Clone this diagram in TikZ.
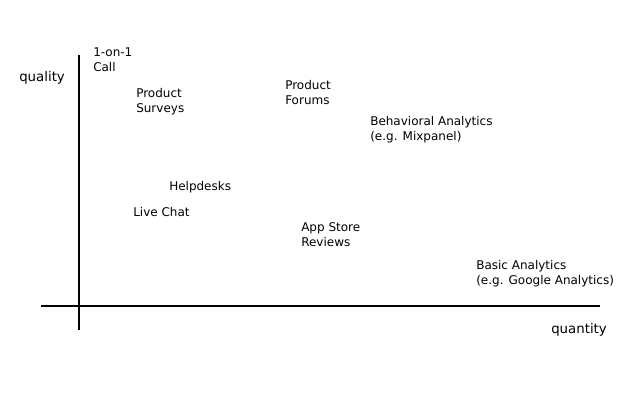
\documentclass[tikz,border=0pt]{standalone}
\usepackage{fontspec}
\setmainfont{DejaVu Sans}
\begin{document}
\begin{tikzpicture}[x=0.75pt,y=-0.75pt,
  lbl/.style={anchor=base west,inner sep=0pt,align=left,font=\fontsize{9}{11.25}\selectfont},
  axlbl/.style={anchor=base west,inner sep=0pt,font=\fontsize{10}{12}\selectfont},
  axis/.style={line width=0.8pt,black}]
\useasboundingbox (0,0) rectangle (640,400);
\coordinate (ytop) at (79,55);
\coordinate (ybot) at (79,330);
\coordinate (xl) at (41,306);
\coordinate (xr) at (600,306);
\draw[axis] (ytop) -- (ybot);
\draw[axis] (xl) -- (xr);
\node[axlbl] (quality) at (19,81.5) {quality};
\node[axlbl] (quantity) at (551,333) {quantity};
\node[lbl] (call) at (93,71.7) {1-on-1\\Call};
\node[lbl] (surveys) at (136,112.5) {Product\\Surveys};
\node[lbl] (forums) at (285,104) {Product\\Forums};
\node[lbl] (behav) at (370,140) {Behavioral Analytics\\(e.g. Mixpanel)};
\node[lbl] (help) at (169,190) {Helpdesks};
\node[lbl] (chat) at (133,216) {Live Chat};
\node[lbl] (app) at (301,246) {App Store\\Reviews};
\node[lbl] (basic) at (476,284.5) {Basic Analytics\\(e.g. Google Analytics)};
\end{tikzpicture}
\end{document}
